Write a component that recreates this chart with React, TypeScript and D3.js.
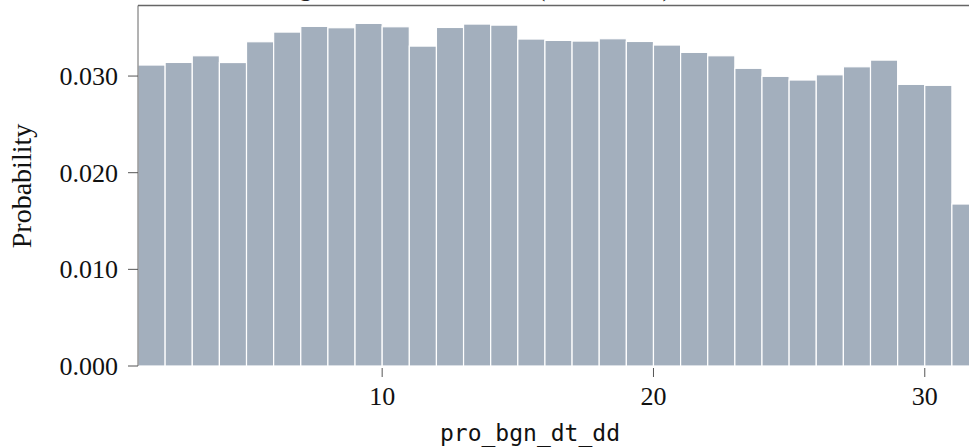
import React from "react";
import * as d3 from "d3";

const days: number[] = [
  1, 2, 3, 4, 5, 6, 7, 8, 9, 10, 11, 12, 13, 14, 15, 16, 17, 18, 19, 20, 21,
  22, 23, 24, 25, 26, 27, 28, 29, 30, 31,
];
const probability: number[] = [
  0.03114, 0.03141, 0.0321, 0.0314, 0.03355, 0.03455, 0.03514, 0.035, 0.03545,
  0.0351, 0.0331, 0.03503, 0.03538, 0.03527, 0.03383, 0.03369, 0.03362,
  0.03386, 0.03358, 0.03321, 0.03245, 0.0321, 0.0308, 0.02997, 0.02959,
  0.03013, 0.03096, 0.03165, 0.02914, 0.02904, 0.01676,
];
const yTicks: number[] = [0, 0.01, 0.02, 0.03];
const xTicks: number[] = [10, 20, 30];
const title = "Histogram of the start dates (normalized)";
const xLabel = "pro_bgn_dt_dd";
const yLabel = "Probability";

const W = 969;
const H = 448;
const left = 138;
const bottom = 366;
const top = 5.5;

export default function App() {
  const x = d3.scaleLinear().domain([1, 32]).range([left, left + 31 * 27.13]);
  const y = d3.scaleLinear().domain([0, 0.0373]).range([bottom, top]);
  const fmt = d3.format(".3f");
  const serif = "'Liberation Serif', serif";
  const axisColor = "#555";
  return (
    <svg
      width={W}
      height={H}
      style={{ position: "absolute", left: 0, top: 0, background: "#fff" }}
    >
      <text x={243} y={-4} fontFamily={serif} fontSize={26} fill="#222">
        {title}
      </text>
      {days.map((d, i) => (
        <rect
          key={d}
          x={x(d)}
          y={y(probability[i])}
          width={x(d + 1) - x(d)}
          height={bottom - y(probability[i])}
          fill="#a3afbd"
          stroke="#ffffff"
          strokeWidth={1.2}
        />
      ))}
      <line x1={left} x2={W} y1={top} y2={top} stroke="#666" strokeWidth={1.3} />
      <line x1={left} x2={left} y1={top} y2={bottom} stroke="#666" strokeWidth={1} />
      {yTicks.map((t) => (
        <g key={t}>
          <line x1={left - 10} x2={left} y1={y(t)} y2={y(t)} stroke={axisColor} strokeWidth={1} />
          <text
            x={left - 20}
            y={y(t)}
            dy="0.35em"
            textAnchor="end"
            fontFamily={serif}
            fontSize={26}
            fill="#111"
          >
            {fmt(t)}
          </text>
        </g>
      ))}
      {xTicks.map((t) => (
        <g key={t}>
          <line x1={x(t)} x2={x(t)} y1={bottom + 2} y2={bottom + 11} stroke={axisColor} strokeWidth={1} />
          <text
            x={x(t)}
            y={405}
            textAnchor="middle"
            fontFamily={serif}
            fontSize={26}
            fill="#111"
          >
            {t}
          </text>
        </g>
      ))}
      <text
        x={530}
        y={441}
        textAnchor="middle"
        fontFamily="'DejaVu Sans Mono', monospace"
        fontSize={23}
        fill="#111"
      >
        {xLabel}
      </text>
      <text
        transform={`translate(31,186) rotate(-90)`}
        textAnchor="middle"
        fontFamily={serif}
        fontSize={28}
        fill="#111"
      >
        {yLabel}
      </text>
    </svg>
  );
}
